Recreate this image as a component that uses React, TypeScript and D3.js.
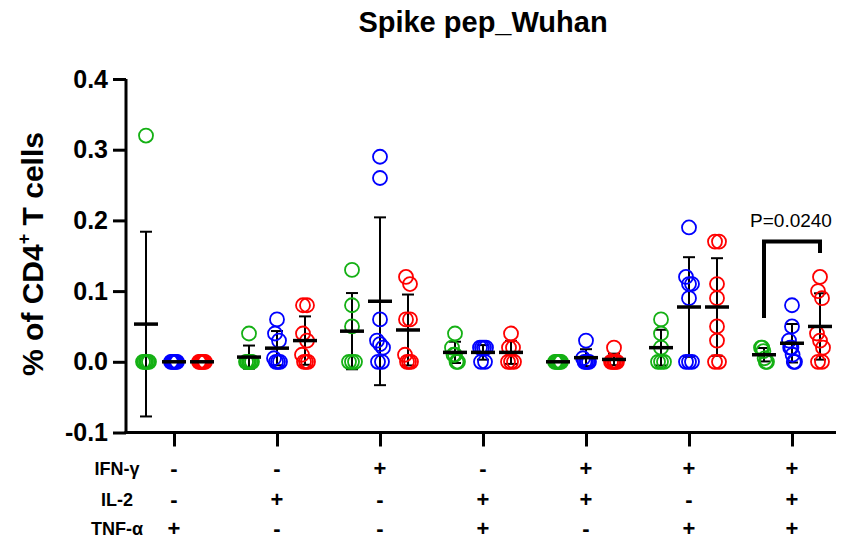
import React, { useRef, useEffect } from 'react';
import * as d3 from 'd3';

// combinations shown under the x axis
const ifnRow = ['-', '-', '+', '-', '+', '+', '+'];
const il2Row = ['-', '+', '-', '+', '+', '-', '+'];
const tnfRow = ['+', '-', '-', '+', '-', '+', '+'];
const rowLabels = ['IFN-γ', 'IL-2', 'TNF-α'];

// per-group values (% of CD4+ T cells), one array per series
const greenValues = [
  [0.32, 0, 0, 0, 0, 0],
  [0.04, 0, 0, 0, 0, 0],
  [0.13, 0.08, 0.05, 0, 0, 0],
  [0.04, 0.02, 0.01, 0.01, 0, 0],
  [0, 0, 0, 0, 0, 0],
  [0.06, 0.04, 0.02, 0, 0, 0],
  [0.02, 0.02, 0.015, 0.005, 0, 0],
];
const blueValues = [
  [0, 0, 0, 0, 0, 0],
  [0.06, 0.04, 0.03, 0.005, 0, 0, 0],
  [0.29, 0.26, 0.06, 0.03, 0.025, 0.02, 0, 0],
  [0.02, 0.02, 0.02, 0.02, 0, 0],
  [0.03, 0.005, 0, 0, 0, 0],
  [0.19, 0.12, 0.11, 0.11, 0.09, 0, 0, 0],
  [0.08, 0.05, 0.03, 0.02, 0.02, 0.01, 0, 0],
];
const redValues = [
  [0, 0, 0, 0, 0, 0],
  [0.08, 0.08, 0.04, 0.03, 0.01, 0, 0, 0],
  [0.12, 0.11, 0.06, 0.06, 0.01, 0, 0, 0],
  [0.04, 0.02, 0.02, 0, 0, 0],
  [0.02, 0, 0, 0, 0, 0],
  [0.17, 0.17, 0.11, 0.09, 0.05, 0.03, 0, 0],
  [0.12, 0.1, 0.09, 0.04, 0.03, 0.02, 0, 0],
];
const seriesColors = ['#14b014', '#0000ff', '#ff0000'];
const yTicks = [-0.1, 0, 0.1, 0.2, 0.3, 0.4];

// significance bracket (last group, green vs red)
const pLabel = 'P=0.0240';
const bracketGroup = 6;
const bracketTop = 0.17;
const bracketLeftEnd = 0.062;
const bracketRightEnd = 0.154;

const FONT = 'Liberation Sans, Arial, Helvetica, sans-serif';

const App = () => {
  const svgRef = useRef<SVGSVGElement>(null);
  const width = 841;
  const height = 541;

  useEffect(() => {
    const svg = d3.select(svgRef.current);
    svg.selectAll('*').remove();

    const series = [greenValues, blueValues, redValues];
    const groupIdx = d3.range(ifnRow.length);

    const x = d3.scalePoint<number>().domain(groupIdx).range([174, 792]);
    const xs = d3.scalePoint<number>().domain([0, 1, 2]).range([-28, 28]);
    const y = d3.scaleLinear().domain([-0.1, 0.4]).range([432.5, 79]);

    // title
    svg.append('text')
      .attr('x', 483).attr('y', 32)
      .attr('text-anchor', 'middle')
      .attr('font-family', FONT).attr('font-weight', 'bold').attr('font-size', 29)
      .text('Spike pep_Wuhan');

    // y axis label
    const yl = svg.append('text')
      .attr('transform', 'translate(43,254) rotate(-90)')
      .attr('text-anchor', 'middle')
      .attr('font-family', FONT).attr('font-weight', 'bold').attr('font-size', 30);
    yl.append('tspan').text('% of CD4');
    yl.append('tspan').attr('font-size', 18).attr('dy', -13).text('+');
    yl.append('tspan').attr('dy', 13).text(' T cells');

    // y axis
    const yAxis = svg.append('g')
      .attr('transform', 'translate(126,0)')
      .call(d3.axisLeft(y).tickValues(yTicks).tickSize(13).tickPadding(5).tickFormat(d => (+d).toFixed(1)));
    yAxis.select('.domain').attr('stroke-width', 3).attr('d', `M0,${y(0.4)}V${y(-0.1) + 1.5}`);
    yAxis.selectAll('.tick line').attr('stroke-width', 3);
    yAxis.selectAll('.tick text')
      .attr('font-family', FONT).attr('font-weight', 'bold').attr('font-size', 25).attr('fill', '#000');

    // x axis
    const xAxis = svg.append('g')
      .attr('transform', `translate(0,${y(-0.1)})`)
      .call(d3.axisBottom(x).tickSize(14).tickFormat(() => ''));
    xAxis.select('.domain').attr('stroke-width', 3).attr('d', 'M124.5,0H836');
    xAxis.selectAll('.tick line').attr('stroke-width', 3);

    // combination table
    const rows = [ifnRow, il2Row, tnfRow];
    const rowY = [475, 506, 535];
    rows.forEach((row, r) => {
      svg.append('text')
        .attr('x', 117).attr('y', rowY[r])
        .attr('text-anchor', 'middle')
        .attr('font-family', FONT).attr('font-weight', 'bold').attr('font-size', 18)
        .text(rowLabels[r]);
      svg.append('g').selectAll('text')
        .data(row)
        .enter()
        .append('text')
        .attr('x', (_, i) => x(i)!)
        .attr('y', rowY[r] + 1)
        .attr('text-anchor', 'middle')
        .attr('font-family', FONT).attr('font-weight', 'bold').attr('font-size', 22)
        .text(d => d);
    });

    const plot = svg.append('g');

    series.forEach((groups, s) => {
      groups.forEach((vals, g) => {
        const cx = x(g)! + xs(s)!;
        const m = d3.mean(vals)!;
        const sd = d3.deviation(vals) || 0;

        // error bar
        const eb = plot.append('g').attr('stroke', '#000').attr('stroke-width', 2);
        eb.append('line').attr('x1', cx).attr('x2', cx).attr('y1', y(m - sd)).attr('y2', y(m + sd));
        [m - sd, m + sd].forEach(v => {
          eb.append('line').attr('x1', cx - 6).attr('x2', cx + 6).attr('y1', y(v)).attr('y2', y(v));
        });

        // spread overlapping points sideways a little
        const sorted = vals.slice().sort((a, b) => b - a);
        const clusters: number[][] = [];
        sorted.forEach(v => {
          const last = clusters[clusters.length - 1];
          if (last && Math.abs(y(last[last.length - 1]) - y(v)) < 9) last.push(v);
          else clusters.push([v]);
        });
        const pts: { v: number; dx: number }[] = [];
        clusters.forEach(c => {
          const step = c.length > 1 ? Math.min(4, 6 / (c.length - 1)) : 0;
          c.forEach((v, j) => pts.push({ v, dx: (j - (c.length - 1) / 2) * step }));
        });

        plot.append('g').selectAll('circle')
          .data(pts)
          .enter()
          .append('circle')
          .attr('cx', d => cx + d.dx)
          .attr('cy', d => y(d.v))
          .attr('r', 7)
          .attr('fill', 'none')
          .attr('stroke', seriesColors[s])
          .attr('stroke-width', 1.8);

        // mean bar
        plot.append('line')
          .attr('x1', cx - 12).attr('x2', cx + 12)
          .attr('y1', y(m)).attr('y2', y(m))
          .attr('stroke', '#000').attr('stroke-width', 3.5);
      });
    });

    // significance bracket
    const bx0 = x(bracketGroup)! + xs(0)!;
    const bx1 = x(bracketGroup)! + xs(2)!;
    svg.append('path')
      .attr('d', `M${bx0},${y(bracketLeftEnd)}V${y(bracketTop)}H${bx1}V${y(bracketRightEnd)}`)
      .attr('fill', 'none').attr('stroke', '#000').attr('stroke-width', 4);
    svg.append('text')
      .attr('x', 791).attr('y', 227)
      .attr('text-anchor', 'middle')
      .attr('font-family', FONT).attr('font-size', 19)
      .text(pLabel);
  }, []);

  return (
    <svg ref={svgRef} width={width} height={height}
      style={{ position: 'absolute', left: 0, top: 0, background: '#fff' }}></svg>
  );
};

export default App;
